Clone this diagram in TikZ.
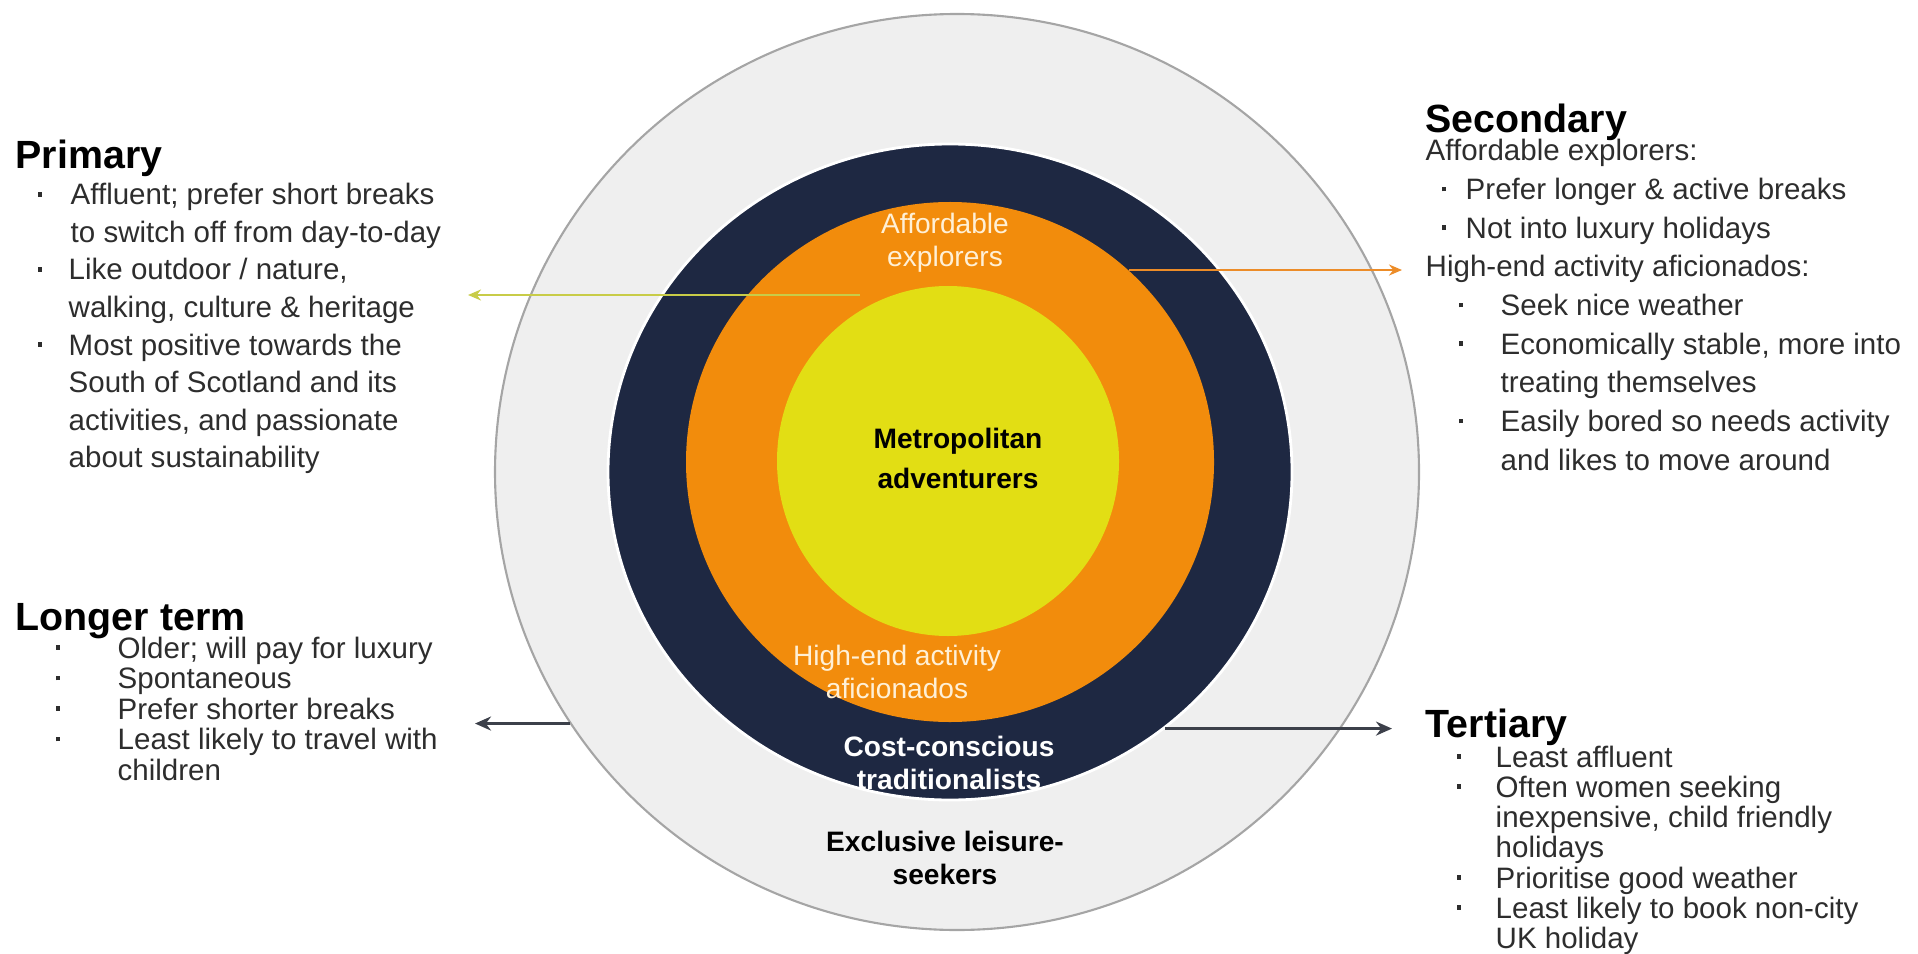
\documentclass[tikz,border=0pt]{standalone}
\usepackage{fontspec}
\setmainfont{Liberation Sans}
\usetikzlibrary{shapes.geometric,arrows.meta}

\definecolor{ringgrey}{RGB}{239,239,239}
\definecolor{ringedge}{RGB}{165,165,165}
\definecolor{navyring}{RGB}{30,40,66}
\definecolor{orangering}{RGB}{242,140,12}
\definecolor{yellowcore}{RGB}{226,222,20}
\definecolor{creamtxt}{RGB}{255,240,214}
\definecolor{bodygrey}{RGB}{45,45,45}
\definecolor{arrowgrey}{RGB}{60,64,74}
\definecolor{lineyellow}{RGB}{200,204,72}
\definecolor{lineorange}{RGB}{236,140,40}

\newcommand{\bdot}{\raisebox{0.28em}{\rule{1.3pt}{1.3pt}}}
\newcommand{\bu}[1]{\makebox[#1][l]{\bdot}}
\newcommand{\ind}[1]{\hspace*{#1}}

\begin{document}
\begin{tikzpicture}[
  ring/.style={ellipse, inner sep=0pt},
  head/.style={anchor=base west, inner sep=0pt, font=\fontsize{11.2}{13}\selectfont\bfseries},
  body/.style={anchor=base west, inner sep=0pt, text=bodygrey},
  lbl/.style={align=center, inner sep=0pt, font=\fontsize{8}{9.4}\selectfont},
  blbl/.style={lbl, font=\fontsize{8}{9.4}\selectfont\bfseries},
  conn/.style={line width=0.9pt, arrowgrey, -{Stealth[length=1.6mm,width=1.4mm]}},
  tip/.style={line width=0.8pt, -{Stealth[length=1.3mm,width=1.1mm]}}]
\useasboundingbox (0,0) rectangle (19.18,-9.53);

% rings
\node[ring, fill=ringgrey, draw=ringedge, line width=0.6pt, minimum width=9.24cm, minimum height=9.16cm] (outer) at (9.57,-4.72) {};
\node[ring, fill=navyring, draw=white, line width=0.8pt, minimum width=6.84cm, minimum height=6.56cm] (navy) at (9.50,-4.72) {};
\node[ring, fill=orangering, minimum width=5.28cm, minimum height=5.20cm] (orng) at (9.50,-4.62) {};
\node[ring, fill=yellowcore, minimum width=3.42cm, minimum height=3.50cm] (core) at (9.48,-4.61) {};

\node[blbl, font=\fontsize{8}{11.4}\selectfont\bfseries] (metro) at (9.58,-4.58) {Metropolitan\\adventurers};
\node[lbl, text=creamtxt] (afford) at (9.45,-2.43) {Affordable\\explorers};
\node[lbl, text=creamtxt] (highend) at (8.97,-6.72) {High-end activity\\aficionados};
\node[blbl, text=white] (cost) at (9.49,-7.63) {Cost-conscious\\traditionalists};
\node[blbl] (excl) at (9.45,-8.58) {Exclusive leisure-\\seekers};

% connectors
\coordinate (ylA) at (4.68,-2.95);
\coordinate (ylB) at (8.60,-2.95);
\coordinate (otip) at (14.02,-2.68);
\coordinate (ltip) at (4.75,-7.22);
\coordinate (rtip) at (13.92,-7.25);
\draw[tip, lineyellow] (ylB) -- (ylA);
\draw[tip, lineorange] (orng.47) -- (orng.47 -| otip);
\draw[conn] (outer.213) -- (outer.213 -| ltip);
\draw[conn] (navy.-50) -- (navy.-50 -| rtip);

% left side
\node[head] (prim) at (0.15,-1.69) {Primary};
\node[body, font=\fontsize{8.4}{10.67}\selectfont] (primtxt) at (0.37,-2.05) {\begin{tabular}[t]{@{}l@{}}
\bu{0.33cm}Affluent; prefer short breaks\\
\ind{0.33cm}to switch off from day-to-day\\
\bu{0.31cm}Like outdoor / nature,\\
\ind{0.31cm}walking, culture \& heritage\\
\bu{0.31cm}Most positive towards the\\
\ind{0.31cm}South of Scotland and its\\
\ind{0.31cm}activities, and passionate\\
\ind{0.31cm}about sustainability
\end{tabular}};

\node[head] (longer) at (0.15,-6.30) {Longer term};
\node[body, font=\fontsize{8.4}{8.7}\selectfont] (longtxt) at (0.55,-6.58) {\begin{tabular}[t]{@{}l@{}}
\bu{0.62cm}Older; will pay for luxury\\
\bu{0.62cm}Spontaneous\\
\bu{0.62cm}Prefer shorter breaks\\
\bu{0.62cm}Least likely to travel with\\
\ind{0.62cm}children
\end{tabular}};

% right side
\node[head] (second) at (14.25,-1.33) {Secondary};
\node[body, font=\fontsize{8.4}{11}\selectfont] (sectxt) at (14.25,-1.61) {\begin{tabular}[t]{@{}l@{}}
Affordable explorers:\\
\ind{0.16cm}\bu{0.24cm}Prefer longer \& active breaks\\
\ind{0.16cm}\bu{0.24cm}Not into luxury holidays\\
High-end activity aficionados:\\
\ind{0.33cm}\bu{0.42cm}Seek nice weather\\
\ind{0.33cm}\bu{0.42cm}Economically stable, more into\\
\ind{0.75cm}treating themselves\\
\ind{0.33cm}\bu{0.42cm}Easily bored so needs activity\\
\ind{0.75cm}and likes to move around
\end{tabular}};

\node[head] (tert) at (14.25,-7.37) {Tertiary};
\node[body, font=\fontsize{8.4}{8.4}\selectfont] (terttxt) at (14.56,-7.67) {\begin{tabular}[t]{@{}l@{}}
\bu{0.39cm}Least affluent\\
\bu{0.39cm}Often women seeking\\
\ind{0.39cm}inexpensive, child friendly\\
\ind{0.39cm}holidays\\
\bu{0.39cm}Prioritise good weather\\
\bu{0.39cm}Least likely to book non-city\\
\ind{0.39cm}UK holiday
\end{tabular}};
\end{tikzpicture}
\end{document}
